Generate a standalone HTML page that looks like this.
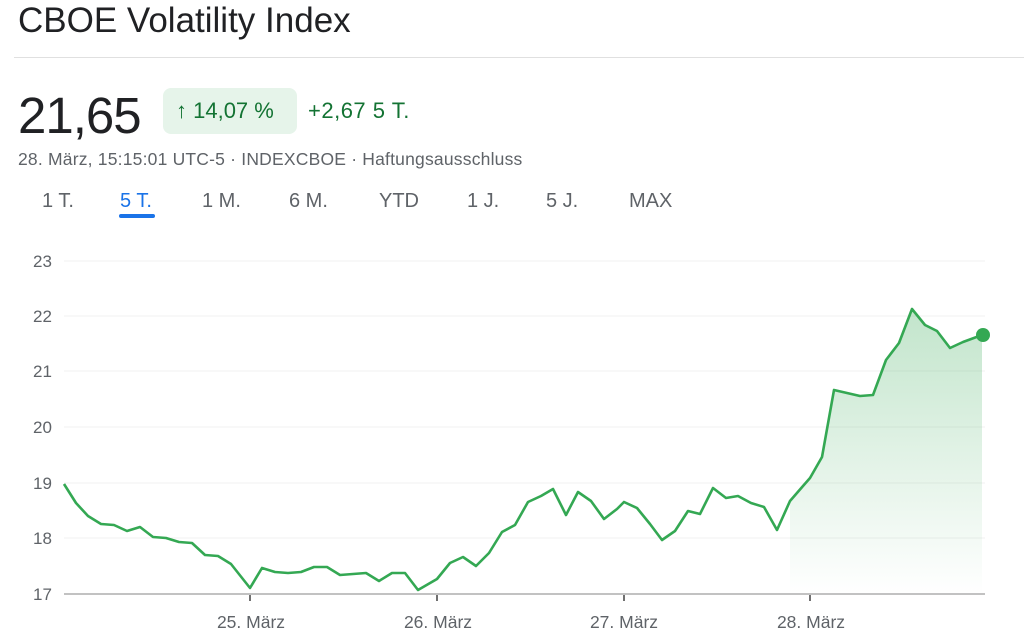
<!DOCTYPE html>
<html><head><meta charset="utf-8"><style>
body{margin:0;width:1024px;height:643px;background:#fff;font-family:"Liberation Sans",sans-serif;overflow:hidden;position:relative}
.a{position:absolute;white-space:nowrap}
</style></head><body>
<div class="a" style="left:18px;top:1px;font-size:35px;color:#202124">CBOE Volatility Index</div>
<div class="a" style="left:14px;top:57px;width:1010px;height:1px;background:#e0e0e0"></div>
<div class="a" style="left:18px;top:86px;font-size:51px;color:#202124;letter-spacing:-1px">21,65</div>
<div class="a" style="left:163px;top:88px;width:134px;height:46px;border-radius:8px;background:#e6f4ea"></div>
<div class="a" style="left:176px;top:98px;font-size:22px;color:#137333">↑ 14,07 %</div>
<div class="a" style="left:308px;top:98px;font-size:22px;color:#137333;letter-spacing:0.5px">+2,67 5 T.</div>
<div class="a" style="left:18px;top:149px;font-size:17.5px;color:#5f6368;letter-spacing:0.2px">28. März, 15:15:01 UTC-5 · INDEXCBOE · Haftungsausschluss</div>
<div class="a" style="left:42px;top:190px;font-size:20px;color:#5f6368">1 T.</div>
<div class="a" style="left:120px;top:190px;font-size:20px;color:#1a73e8">5 T.</div>
<div class="a" style="left:119px;top:214px;width:36px;height:4px;border-radius:2px;background:#1a73e8"></div>
<div class="a" style="left:202px;top:190px;font-size:20px;color:#5f6368">1 M.</div>
<div class="a" style="left:289px;top:190px;font-size:20px;color:#5f6368">6 M.</div>
<div class="a" style="left:379px;top:190px;font-size:20px;color:#5f6368">YTD</div>
<div class="a" style="left:467px;top:190px;font-size:20px;color:#5f6368">1 J.</div>
<div class="a" style="left:546px;top:190px;font-size:20px;color:#5f6368">5 J.</div>
<div class="a" style="left:629px;top:190px;font-size:20px;color:#5f6368">MAX</div>
<svg class="a" style="left:0;top:0" width="1024" height="643">
<defs><linearGradient id="g" x1="0" y1="0" x2="0" y2="1"><stop offset="0" stop-color="#34a853" stop-opacity="0.3"/><stop offset="1" stop-color="#34a853" stop-opacity="0"/></linearGradient></defs>
<g stroke="#f1f1f1" stroke-width="1">
<line x1="64" x2="985" y1="261" y2="261"/><line x1="64" x2="985" y1="316" y2="316"/><line x1="64" x2="985" y1="371" y2="371"/><line x1="64" x2="985" y1="427" y2="427"/><line x1="64" x2="985" y1="483" y2="483"/><line x1="64" x2="985" y1="538" y2="538"/></g>
<line x1="64" x2="985" y1="594" y2="594" stroke="#9e9e9e" stroke-width="1.2"/>
<g stroke="#707070" stroke-width="2"><line x1="250" x2="250" y1="595" y2="601"/><line x1="437" x2="437" y1="595" y2="601"/><line x1="624" x2="624" y1="595" y2="601"/><line x1="810" x2="810" y1="595" y2="601"/></g>
<g font-size="17" fill="#5f6368" font-family="Liberation Sans,sans-serif">
<text x="33" y="267">23</text><text x="33" y="322">22</text><text x="33" y="377">21</text><text x="33" y="433">20</text><text x="33" y="489">19</text><text x="33" y="544">18</text><text x="33" y="600">17</text>
<text x="251" y="628" text-anchor="middle" font-size="17.5">25. März</text><text x="438" y="628" text-anchor="middle" font-size="17.5">26. März</text><text x="624" y="628" text-anchor="middle" font-size="17.5">27. März</text><text x="811" y="628" text-anchor="middle" font-size="17.5">28. März</text></g>
<polygon fill="url(#g)" points="790,501 803,486 810,478 822,457 834,390 847,393 860,396 873,395 886,360 899,343 912,309 925,325 937,331 950,348 963,342 982,335 982,594 790,594"/>
<polyline fill="none" stroke="#34a853" stroke-width="2.6" stroke-linejoin="round" points="64,484 76,503 88,516 101,524 114,525 127,531 140,527 153,537 166,538 179,542 192,543 205,555 218,556 231,564 250,588 262,568 275,572 288,573 301,572 314,567 327,567 340,575 353,574 366,573 379,581 392,573 405,573 418,590 437,579 450,563 463,557 476,566 489,553 502,532 515,525 528,502 541,496 553,489 566,515 578,492 591,501 604,519 617,509 624,502 637,508 650,524 662,540 675,531 688,511 700,514 713,488 726,498 738,496 751,503 764,507 777,530 790,501 803,486 810,478 822,457 834,390 847,393 860,396 873,395 886,360 899,343 912,309 925,325 937,331 950,348 963,342 982,335"/>
<circle cx="983" cy="335" r="7" fill="#34a853"/>
</svg>
</body></html>
